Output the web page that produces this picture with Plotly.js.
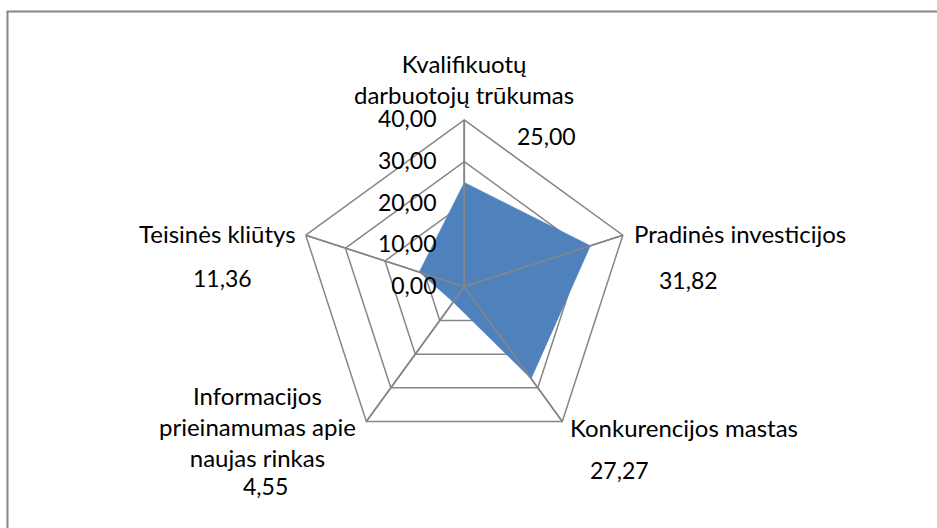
<!DOCTYPE html>
<html>
<head>
<meta charset="utf-8">
<script src="https://cdn.plot.ly/plotly-3.0.1.min.js"></script>
<style>html,body{margin:0;padding:0;background:#fff;}#chart{width:937px;height:528px;}</style>
</head>
<body>
<div id="chart"></div>
<script>
const categories = ["Kvalifikuotų darbuotojų trūkumas", "Pradinės investicijos", "Konkurencijos mastas", "Informacijos prieinamumas apie naujas rinkas", "Teisinės kliūtys"];
const categoryLines = ["Kvalifikuotų<br>darbuotojų trūkumas", "Pradinės investicijos", "Konkurencijos mastas", "Informacijos<br>prieinamumas apie<br>naujas rinkas", "Teisinės kliūtys"];
const values = [25.00, 31.82, 27.27, 4.55, 11.36];
const radialTicks = [0, 10, 20, 30, 40];
const radialMax = 40;

const W = 937, H = 528;
const px = x => x / W, py = y => 1 - y / H;
const fmt = v => v.toFixed(2).replace('.', ',');

// label placement (layout only)
const catPos = [
  {x: 464, y: 79, xa: 'center'},
  {x: 632, y: 234, xa: 'left'},
  {x: 568, y: 427, xa: 'left'},
  {x: 257, y: 426, xa: 'center'},
  {x: 298, y: 234, xa: 'right'}
];
const valPos = [
  {x: 546, y: 136}, {x: 688, y: 280}, {x: 619, y: 470}, {x: 265, y: 486}, {x: 222, y: 278}
];

const catFont = {family: 'Lato, "Liberation Sans", sans-serif', size: 24, color: '#000'};
const numFont = {family: 'Lato, "Liberation Sans", sans-serif', size: 23, color: '#000'};
const annotations = [];
categories.forEach((c, i) => {
  annotations.push({text: categoryLines[i], x: px(catPos[i].x), y: py(catPos[i].y), xref: 'paper', yref: 'paper',
    xanchor: catPos[i].xa, yanchor: 'middle', showarrow: false, font: catFont, align: 'center'});
  annotations.push({text: fmt(values[i]), x: px(valPos[i].x), y: py(valPos[i].y), xref: 'paper', yref: 'paper',
    xanchor: 'center', yanchor: 'middle', showarrow: false, font: numFont});
});

const cx = 464.3, cy = 286.7, R = 166.7;
const gray = '#868686';
const layout = {
  width: W, height: H,
  margin: {l: 0, r: 0, t: 0, b: 0},
  paper_bgcolor: '#fff',
  showlegend: false,
  separators: ',.',
  font: numFont,
  polar: {
    domain: {x: [px(cx - R), px(cx + R)], y: [py(cy + R), py(cy - R)]},
    gridshape: 'linear',
    bgcolor: 'rgba(0,0,0,0)',
    radialaxis: {
      range: [0, radialMax], tickvals: radialTicks, tickformat: '.2f',
      angle: 90, tickangle: 90, side: 'counterclockwise',
      showline: true, linecolor: gray, linewidth: 1.5,
      gridcolor: gray, gridwidth: 1.5,
      ticks: 'outside', ticklen: 19, tickcolor: 'rgba(0,0,0,0)',
      tickfont: numFont, layer: 'above traces'
    },
    angularaxis: {
      direction: 'clockwise', rotation: 90,
      showticklabels: false, ticks: '',
      showline: true, linecolor: gray, linewidth: 1.5,
      gridcolor: gray, gridwidth: 1.5, layer: 'above traces'
    }
  },
  annotations: annotations,
  shapes: [
    {type: 'line', xref: 'paper', yref: 'paper', x0: px(7.5), x1: px(7.5), y0: -0.05, y1: py(11.5), line: {color: gray, width: 2}},
    {type: 'line', xref: 'paper', yref: 'paper', x0: px(6.5), x1: 1.05, y0: py(11.5), y1: py(11.5), line: {color: gray, width: 2}}
  ]
};

const trace = {
  type: 'scatterpolar',
  r: values.concat([values[0]]),
  theta: categories.concat([categories[0]]),
  mode: 'lines', fill: 'toself',
  fillcolor: '#4F81BD', line: {color: '#4F81BD', width: 0.5},
  hoverinfo: 'skip'
};

// spokes drawn over the fill, as in the reference
const spokeR = [], spokeT = [];
categories.forEach(c => { spokeR.push(0, radialMax, null); spokeT.push(c, c, null); });
const spokes = {
  type: 'scatterpolar', r: spokeR, theta: spokeT, mode: 'lines',
  line: {color: gray, width: 1.5}, connectgaps: false, hoverinfo: 'skip'
};

Plotly.newPlot('chart', [trace, spokes], layout, {staticPlot: true});
</script>
</body>
</html>
